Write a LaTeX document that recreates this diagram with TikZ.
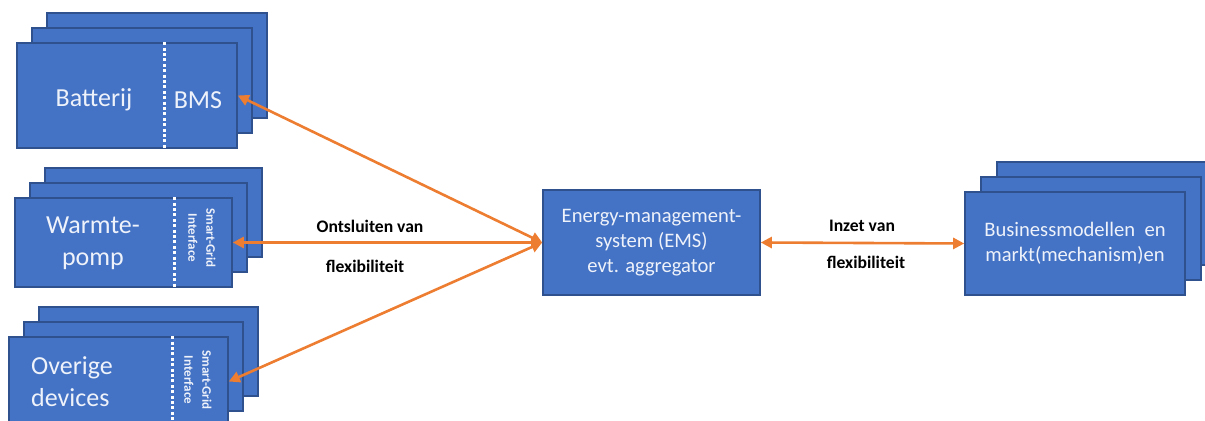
\documentclass[tikz,border=0pt]{standalone}
\usepackage{fontspec}
\setmainfont{Carlito}
\usetikzlibrary{arrows.meta,positioning,calc}
\definecolor{cardblue}{HTML}{4472C4}
\definecolor{cardedge}{HTML}{2F528F}
\definecolor{flexorange}{HTML}{ED7D31}
\definecolor{cardtext}{HTML}{EEF2FA}

\begin{document}
\begin{tikzpicture}[
    x=0.5pt, y=-0.5pt,
    card/.style={draw=cardedge, line width=0.8pt, fill=cardblue, inner sep=0pt},
    devtext/.style={text=cardtext, align=center, font=\fontsize{13}{16}\selectfont},
    mgmttext/.style={text=cardtext, align=center, font=\fontsize{10.3}{12.5}\selectfont},
    sgtext/.style={text=cardtext, align=center, rotate=-90, font=\bfseries\fontsize{6.5}{9}\selectfont},
    divider/.style={draw=white, line width=1.5pt, dash pattern=on 1.5pt off 1.2pt},
    flow/.style={{Triangle[length=5.5pt,width=5.5pt]}-{Triangle[length=5.5pt,width=5.5pt]}, draw=flexorange, line width=1.3pt},
    flowlabel/.style={font=\bfseries\fontsize{8.8}{10}\selectfont}
]
\useasboundingbox (0,0) rectangle (1205,421);

% Batterij
\node[card, minimum width=110pt, minimum height=52.5pt] (bat3) at (157,65.5) {};
\node[card, minimum width=110pt, minimum height=52.5pt] (bat2) at (142,80.5) {};
\node[card, minimum width=110pt, minimum height=52.5pt] (bat) at (127,95.5) {};
\draw[divider] ([xshift=74pt]bat.north west) -- ([xshift=74pt]bat.south west);
\node[devtext] (battxt) at (94,100) {Batterij};
\node[devtext] (bms) at (198,100) {BMS};

% Warmtepomp
\node[card, minimum width=108.5pt, minimum height=44.5pt] (wp3) at (153.5,212.5) {};
\node[card, minimum width=108.5pt, minimum height=44.5pt] (wp2) at (138.5,227.5) {};
\node[card, minimum width=108.5pt, minimum height=44.5pt] (wp) at (123.5,242.5) {};
\draw[divider] ([xshift=80pt]wp.north west) -- ([xshift=80pt]wp.south west);
\node[devtext] (wptxt) at (93,243.5) {Warmte-\\pomp};
\node[sgtext] (wpsg) at (202,238) {Smart-Grid\\Interface};

% Overige devices
\node[card, minimum width=109.5pt, minimum height=44.5pt] (ov3) at (148.5,351.5) {};
\node[card, minimum width=109.5pt, minimum height=44.5pt] (ov2) at (133.5,366.5) {};
\node[card, minimum width=109.5pt, minimum height=44.5pt] (ov) at (118.5,381.5) {};
\draw[divider] ([xshift=82pt]ov.north west) -- ([xshift=82pt]ov.south west);
\node[devtext, align=left] (ovtxt) at (72,381.5) {Overige\\devices};
\node[sgtext] (ovsg) at (198,380) {Smart-Grid\\Interface};

% EMS
\node[card, minimum width=108.5pt, minimum height=52.5pt, mgmttext] (ems) at (651.5,242.5) {Energy-management-\\system (EMS)\\evt. aggregator};

% Businessmodellen
\node[card, minimum width=110pt, minimum height=51.5pt] (bm3) at (1107,213.5) {};
\node[card, minimum width=110pt, minimum height=51.5pt] (bm2) at (1091,228.5) {};
\node[card, minimum width=110pt, minimum height=51.5pt, mgmttext] (bm) at (1075,243.5) {Businessmodellen\ \ en\\markt(mechanism)en};

% connectors
\draw[flow] (ems.west) -- (bat.east);
\draw[flow] (ems.west) -- (wp.east);
\draw[flow] (ems.west) -- (ov.east);
\draw[flow] (ems.east) -- (bm.west);

\node[flowlabel] (ontsl) at (370,226) {Ontsluiten van};
\node[flowlabel] (flexl) at (365,266) {flexibiliteit};
\node[flowlabel] (inzet) at (862,226) {Inzet van};
\node[flowlabel] (flexr) at (866,262) {flexibiliteit};
\end{tikzpicture}
\end{document}
